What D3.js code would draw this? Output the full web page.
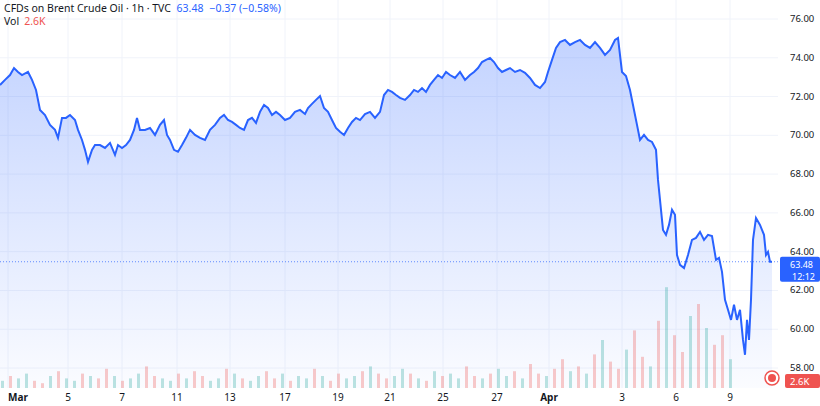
<!doctype html>
<html>
<head>
<meta charset="utf-8">
<script src="https://d3js.org/d3.v7.min.js"></script>
<style>
  body { margin: 0; background: #fff; font-family: "Noto Sans", Roboto, sans-serif; }
  text { font-family: "Noto Sans", Roboto, sans-serif; }
</style>
</head>
<body>
<svg id="chart" width="820" height="406"></svg>
<script>
// bar position (hourly bar index) and close price
const barIdx = [0,5,10,14,18,22,28,32,36,40,45,50,55,58,62,66,70,75,78,82,85,88,92,95,100,105,110,115,118,122,126,130,134,137,140,145,150,155,160,164,167,170,174,178,182,186,190,195,200,205,210,215,220,224,228,232,236,240,244,248,252,256,260,264,268,272,276,280,285,290,295,300,305,308,312,316,320,324,328,332,336,340,344,348,352,356,360,365,370,375,380,384,388,392,396,400,405,410,414,418,422,426,430,434,438,442,446,450,455,460,465,470,474,478,482,486,490,494,498,502,506,510,515,520,525,530,535,540,545,548,552,556,560,565,570,575,580,585,590,595,600,605,610,615,618,622,626,630,634,637,640,644,648,652,656,658,660,663,666,669,672,675,677,680,684,688,692,696,700,704,708,712,716,719,722,725,728,731,734,737,740,743,745,747,749,751,753,756,760,764,766,768,770,772];
const price = [72.60,72.86,73.11,73.47,73.27,73.11,73.27,72.86,72.34,71.31,71.05,70.54,70.28,69.87,70.90,70.90,71.05,70.79,70.28,69.76,69.25,68.63,69.25,69.50,69.50,69.35,69.61,68.99,69.50,69.35,69.50,69.76,70.28,70.90,70.28,70.28,70.38,70.02,70.54,70.79,70.02,69.76,69.25,69.15,69.50,69.87,70.28,70.02,69.87,69.76,70.28,70.54,70.90,71.05,70.79,70.69,70.54,70.38,70.28,70.79,70.90,70.64,71.21,71.57,71.41,71.05,71.21,71.05,70.79,70.90,71.21,71.31,71.10,71.41,71.62,71.83,72.03,71.41,71.21,70.79,70.38,70.18,70.02,70.38,70.69,70.90,70.79,71.10,71.21,70.90,71.21,72.08,72.34,72.24,72.08,71.93,71.83,72.08,72.34,72.24,72.44,72.24,72.60,72.86,73.11,72.96,73.27,73.11,72.96,73.27,72.86,73.11,73.27,73.47,73.78,73.89,73.99,73.78,73.47,73.27,73.37,73.47,73.27,73.37,73.22,72.96,72.60,72.44,72.75,73.27,73.89,74.51,74.81,74.92,74.66,74.81,74.92,74.66,74.51,74.81,74.51,74.15,74.40,74.92,75.02,73.27,73.06,72.34,71.31,70.54,69.76,70.02,69.76,69.66,69.25,67.70,66.67,65.12,64.87,65.38,66.16,65.90,63.83,63.32,63.16,63.83,64.61,64.71,65.02,64.61,64.87,64.81,63.58,63.68,62.96,61.52,61.00,60.48,61.26,60.48,61.00,59.45,58.68,60.48,59.45,61.52,64.61,65.74,65.38,64.87,63.83,63.99,63.48,63.48];

// volume (K), one value per 8 bars
const volume = [3,5,4,6,3,2,5,7,4,3,6,5,4,8,5,3,4,6,9,5,4,3,6,4,7,5,3,4,8,6,4,3,5,7,4,6,3,5,4,8,5,3,6,4,5,7,9,6,4,5,8,6,4,3,7,5,6,4,9,5,4,6,8,5,7,4,10,6,5,8,12,7,9,6,14,20,11,8,16,24,13,9,28,42,22,15,30,35,25,18,22,12];
const volUp = [1,0,1,1,0,0,1,0,1,1,0,1,0,0,1,0,1,1,0,0,1,1,0,1,0,0,1,1,0,1,0,1,1,0,0,1,0,1,1,0,1,0,0,1,1,0,1,0,0,1,1,0,1,0,1,0,1,1,0,0,1,0,1,1,0,1,0,0,1,0,0,1,0,1,0,1,0,0,1,0,0,1,0,1,0,0,1,0,1,0,0,1];

const yTicks = [58,60,62,64,66,68,70,72,74,76];
const xTickIdx = [8,68,122,177,230,285,338,390,443,497,549,622,676,730];
const xTickLab = ["Mar","5","7","11","13","17","19","21","25","27","Apr","3","6","9"];
const lastPrice = 63.48;

const plotR = 778, plotB = 388;
const svg = d3.select("#chart");
const x = d3.scaleLinear().domain([0, 778]).range([0, plotR]);
const y = d3.scaleLinear().domain([58, 76]).range([368, 19]);
const vy = d3.scaleLinear().domain([0, 50]).range([plotB, plotB - 120]);

// grid
svg.append("g").selectAll("line").data(yTicks).join("line")
  .attr("x1", 0).attr("x2", plotR).attr("y1", d => y(d)).attr("y2", d => y(d))
  .attr("stroke", "#f0f3fa");
svg.append("g").selectAll("line").data(xTickIdx).join("line")
  .attr("x1", d => x(d)).attr("x2", d => x(d)).attr("y1", 0).attr("y2", plotB)
  .attr("stroke", "#f0f3fa");

// area gradient
const grad = svg.append("defs").append("linearGradient")
  .attr("id", "g").attr("x1", 0).attr("x2", 0).attr("y1", 0).attr("y2", 1);
grad.append("stop").attr("offset", "0%").attr("stop-color", "#2962ff").attr("stop-opacity", 0.28);
grad.append("stop").attr("offset", "100%").attr("stop-color", "#2962ff").attr("stop-opacity", 0.02);

const pts = barIdx.map((b, i) => [b, price[i]]);
svg.append("path").datum(pts)
  .attr("d", d3.area().x(d => x(d[0])).y0(plotB).y1(d => y(d[1])))
  .attr("fill", "url(#g)");

// volume
svg.append("g").selectAll("rect").data(volume).join("rect")
  .attr("x", (d, i) => x(i * 8 + 1)).attr("width", 3)
  .attr("y", d => vy(d)).attr("height", d => plotB - vy(d))
  .attr("fill", (d, i) => volUp[i] ? "rgba(38,166,154,0.3)" : "rgba(239,83,80,0.3)");

// price line
svg.append("path").datum(pts)
  .attr("d", d3.line().x(d => x(d[0])).y(d => y(d[1])))
  .attr("fill", "none").attr("stroke", "#2962ff").attr("stroke-width", 2);

// last price dotted line
svg.append("line").attr("x1", 0).attr("x2", plotR)
  .attr("y1", y(lastPrice)).attr("y2", y(lastPrice))
  .attr("stroke", "#2962ff").attr("stroke-dasharray", "1,2").attr("opacity", 0.7);

// right axis labels
svg.append("g").selectAll("text").data(yTicks).join("text")
  .attr("x", 790).attr("y", d => y(d) + 3).attr("font-size", 9.5).attr("fill", "#131722")
  .text(d => d.toFixed(2));

// last price label
svg.append("rect").attr("x", 780).attr("y", y(lastPrice) - 5).attr("width", 40).attr("height", 25)
  .attr("fill", "#2962ff").attr("rx", 2);
svg.append("text").attr("x", 790).attr("y", y(lastPrice) + 6).attr("font-size", 9)
  .attr("fill", "#fff").text(lastPrice.toFixed(2));
svg.append("text").attr("x", 792).attr("y", y(lastPrice) + 18).attr("font-size", 9)
  .attr("fill", "#fff").text("12:12");

// volume label
svg.append("rect").attr("x", 785).attr("y", 374).attr("width", 35).attr("height", 14)
  .attr("fill", "#ef5350").attr("rx", 2);
svg.append("text").attr("x", 790).attr("y", 385).attr("font-size", 9.5).attr("fill", "#fff").text("2.6K");
svg.append("circle").attr("cx", 772).attr("cy", 378).attr("r", 7)
  .attr("fill", "#fff").attr("stroke", "#ef5350").attr("stroke-width", 1.5);
svg.append("circle").attr("cx", 772).attr("cy", 378).attr("r", 4).attr("fill", "#ef5350");

// x axis labels
svg.append("g").selectAll("text").data(xTickIdx).join("text")
  .attr("x", d => x(d)).attr("y", 401).attr("font-size", 10).attr("fill", "#131722")
  .attr("text-anchor", (d, i) => i === 0 ? "start" : "middle")
  .attr("font-weight", (d, i) => (xTickLab[i] === "Mar" || xTickLab[i] === "Apr") ? "bold" : "normal")
  .text((d, i) => xTickLab[i]);

// legend
const t1 = svg.append("text").attr("x", 4).attr("y", 12).attr("font-size", 10.5);
t1.append("tspan").attr("fill", "#131722").text("CFDs on Brent Crude Oil · 1h · TVC ");
t1.append("tspan").attr("fill", "#2962ff").attr("dx", 3).text("63.48");
t1.append("tspan").attr("fill", "#2962ff").attr("dx", 6).text("−0.37 (−0.58%)");
const t2 = svg.append("text").attr("x", 4).attr("y", 25).attr("font-size", 10.5);
t2.append("tspan").attr("fill", "#131722").text("Vol");
t2.append("tspan").attr("fill", "#ef5350").attr("dx", 5).text("2.6K");
</script>
</body>
</html>
